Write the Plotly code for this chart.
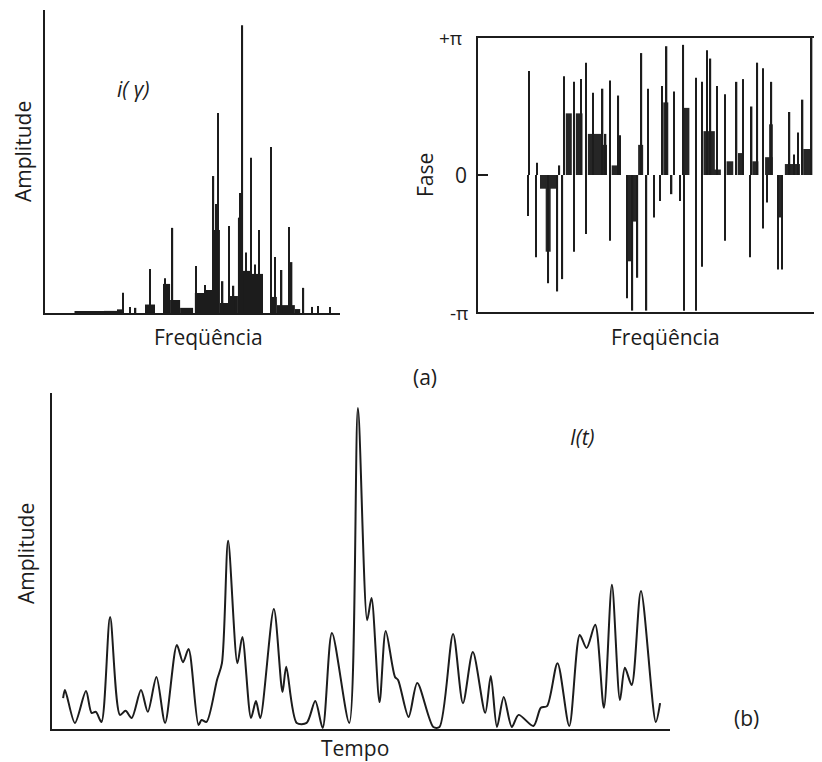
import plotly.graph_objects as go

W, H = 822, 762
OFF = 8  # page body margin offset of the browser

# ---------------- (a) amplitude spectrum i(gamma) ----------------
# thin spectral lines: frequency (0-100 arb.), amplitude (0-100 arb.)
amp_spike_freq = [26.5, 28.8, 30.7, 35.6, 40.6, 41.8, 43.2, 51.2, 54.2, 57.1, 58.0,
                  58.7, 60.2, 62.3, 63.9, 65.8, 66.3, 66.9, 68.2, 69.8, 71.2, 72.6,
                  76.6, 78.0, 80.2, 82.8, 83.6, 87.6, 90.6, 92.6, 96.6]
amp_spike_val = [6.7, 2.0, 1.7, 14.5, 11.5, 8.0, 28.1, 15.5, 9.2, 45.2, 36.0,
                 66.0, 10.5, 28.7, 9.0, 31.4, 39.6, 95.0, 20.0, 51.2, 16.0, 27.4,
                 54.8, 18.5, 14.2, 28.4, 16.8, 8.3, 2.0, 2.3, 2.0]
# dense (filled) bands: start, end, amplitude
amp_block_start = [24.4, 33.9, 40.0, 42.4, 45.8, 50.8, 54.2, 56.9, 59.3, 62.7, 65.4,
                   66.8, 69.5, 76.3, 78.6, 84.7, 10.0, 20.0]
amp_block_end = [26.4, 37.3, 42.4, 45.8, 50.2, 54.2, 56.9, 59.3, 62.7, 65.4, 66.8,
                 69.5, 73.9, 78.6, 84.7, 86.5, 20.0, 24.4]
amp_block_val = [1.2, 2.8, 9.6, 4.3, 1.7, 6.6, 7.6, 27.4, 3.3, 5.6, 31.4,
                 13.9, 12.9, 5.3, 2.6, 1.3, 0.4, 0.7]

# ---------------- (a) phase spectrum (in units of pi) ----------------
ph_spike_freq = [15.3, 15.0, 17.3, 17.7, 21.0, 23.7, 24.3, 25.2, 25.7, 28.7, 28.7,
                 30.7, 32.2, 32.2, 34.4, 37.2, 38.1, 39.4, 39.4, 41.9, 42.4, 44.4,
                 46.1, 47.6, 48.8, 50.3, 50.8, 52.5, 54.3, 55.0, 56.3, 57.8, 58.5,
                 60.3, 61.3, 61.5, 65.0, 65.0, 66.8, 66.8, 68.3, 69.4, 71.4, 73.7,
                 73.7, 77.2, 79.2, 81.2, 81.7, 83.4, 85.0, 85.0, 86.2, 87.4, 87.6,
                 89.5, 90.7, 93.0, 94.4, 95.5, 96.9, 99.4, 99.6, 101.5]
ph_spike_val = [0.76, -0.30, -0.60, 0.09, -0.79, -0.85, 0.07, -0.76, 0.72, 0.68, -0.56,
                0.70, 0.82, -0.43, 0.60, 0.63, 0.30, 0.69, -0.48, 0.58, 0.29, -0.90,
                -0.99, -0.75, 0.89, -0.99, 0.63, -0.31, -0.19, 0.65, 0.94, -0.14, 0.61,
                -0.19, 0.95, -0.99, 0.71, -0.99, 0.68, -0.67, 0.91, 0.85, 0.65, 0.59,
                -0.48, 0.68, 0.70, -0.60, 0.50, 0.82, 0.78, -0.39, -0.20, 0.37, 0.68,
                -0.69, -0.69, 0.46, 0.15, 0.31, 0.55, 0.47, 1.00, -0.96]
ph_block_start = [18.5, 20.2, 26.2, 29.2, 32.8, 37.3, 39.9, 44.2, 44.2, 47.8, 55.3,
                  61.3, 67.3, 69.6, 74.2, 77.6, 81.9, 85.7, 86.9, 89.5, 91.6, 97.1,
                  101.6]
ph_block_end = [23.5, 21.7, 28.0, 31.2, 37.3, 38.5, 41.9, 47.4, 45.7, 49.3, 56.8,
                63.1, 70.7, 72.5, 76.2, 79.1, 83.7, 88.0, 88.0, 90.7, 96.1, 99.6,
                102.4]
ph_block_val = [-0.10, -0.56, 0.45, 0.45, 0.30, 0.22, 0.07, -0.34, -0.63, 0.22, 0.53,
                0.49, 0.32, 0.04, 0.10, 0.16, 0.10, 0.13, 0.37, -0.31, 0.08, 0.19,
                -0.55]

# ---------------- (b) time signal I(t) ----------------
time_t = [1.8, 2.1, 3.7, 5.5, 6.4, 7.1, 8.0, 9.4, 11.0, 11.9, 12.9, 14.4, 15.5, 16.9,
          18.3, 20.2, 21.2, 22.1, 23.7, 24.2, 25.0, 26.7, 27.5, 28.5, 30.0, 30.8,
          32.2, 33.0, 33.7, 35.9, 37.3, 37.9, 39.6, 41.2, 42.6, 43.8, 45.3, 48.1,
          49.5, 51.0, 51.7, 53.0, 54.0, 55.5, 56.0, 57.7, 59.1, 61.7, 62.7, 64.9,
          66.5, 68.1, 70.1, 71.0, 72.0, 73.1, 74.4, 75.5, 77.9, 79.1, 80.1, 81.8,
          83.7, 85.4, 86.5, 87.9, 89.3, 90.6, 91.9, 92.7, 93.8, 95.3, 97.7, 98.4]
time_amp = [9.2, 11.6, 1.8, 11.3, 4.8, 5.1, 2.1, 33.3, 4.2, 5.4, 3.3, 11.6, 5.1, 15.5,
            1.8, 25.0, 19.9, 23.8, 1.2, 2.7, 2.1, 14.6, 19.6, 56.0, 19.6, 27.4,
            3.3, 8.3, 3.3, 35.7, 11.0, 18.5, 1.8, 1.8, 8.3, 0.3, 28.6, 1.8,
            95.5, 32.4, 39.0, 8.0, 29.2, 15.5, 14.6, 3.6, 13.7, 0.6, 0.6, 28.3,
            7.7, 22.9, 4.8, 15.8, 0.6, 9.5, 0.6, 4.2, 0.9, 6.3, 6.8, 19.6,
            0.9, 28.0, 24.1, 31.0, 6.3, 42.9, 8.6, 18.2, 13.1, 41.1, 2.1, 7.7]

INK = "#1c1c1c"
FONT = "Open Sans"


def px_dom_x(a, b):
    return [max(0.0, (a - OFF) / W), min(1.0, (b - OFF) / W)]


def px_dom_y(top, bottom):
    return [1 - (bottom - OFF) / H, 1 - (top - OFF) / H]


def centers(s, e):
    return [(a + b) / 2 for a, b in zip(s, e)]


def widths(s, e):
    return [b - a for a, b in zip(s, e)]


fig = go.Figure()

# amplitude spectrum
fig.add_trace(go.Bar(x=centers(amp_block_start, amp_block_end), y=amp_block_val,
                     width=widths(amp_block_start, amp_block_end),
                     marker=dict(color=INK, line=dict(width=0)),
                     xaxis="x", yaxis="y", showlegend=False))
fig.add_trace(go.Bar(x=amp_spike_freq, y=amp_spike_val, width=[0.5] * len(amp_spike_freq),
                     marker=dict(color=INK, line=dict(width=0)),
                     xaxis="x", yaxis="y", showlegend=False))

# phase spectrum
fig.add_trace(go.Bar(x=centers(ph_block_start, ph_block_end), y=ph_block_val,
                     width=widths(ph_block_start, ph_block_end),
                     marker=dict(color="#262626", line=dict(width=0)),
                     xaxis="x2", yaxis="y2", showlegend=False))
fig.add_trace(go.Bar(x=ph_spike_freq, y=ph_spike_val, width=[0.42] * len(ph_spike_freq),
                     marker=dict(color=INK, line=dict(width=0)),
                     xaxis="x2", yaxis="y2", showlegend=False))

# time signal
fig.add_trace(go.Scatter(x=time_t, y=time_amp, mode="lines",
                         line=dict(color=INK, width=2, shape="spline", smoothing=0.8),
                         xaxis="x3", yaxis="y3", showlegend=False))

plain = dict(showgrid=False, zeroline=False, showticklabels=False, ticks="",
             linecolor=INK, linewidth=1.5, fixedrange=True)

# phase panel: frame runs past the right edge of the picture
ph_x0, ph_x1 = 478, 830
ph_range_end = (ph_x1 - ph_x0) / 3.35

fig.update_layout(
    width=W, height=H,
    margin=dict(l=0, r=0, t=0, b=0),
    paper_bgcolor="white", plot_bgcolor="rgba(0,0,0,0)",
    barmode="overlay",
    font=dict(family=FONT, color=INK, size=21),
    xaxis=dict(**plain, domain=px_dom_x(45, 340), range=[0, 100], showline=True,
               anchor="y"),
    yaxis=dict(**plain, domain=px_dom_y(10, 313), range=[0, 100], showline=True,
               anchor="x"),
    xaxis2=dict(**plain, domain=px_dom_x(ph_x0, ph_x1), range=[0, ph_range_end],
                showline=True, mirror=True, anchor="y2"),
    yaxis2=dict(showgrid=False, zeroline=False, showticklabels=False, ticks="inside",
                ticklen=10, tickwidth=1.5, tickcolor=INK, tickvals=[0],
                linecolor=INK, linewidth=1.5, showline=True,
                domain=px_dom_y(38, 312), range=[-1, 1], anchor="x2"),
    xaxis3=dict(**plain, domain=px_dom_x(52, 670), range=[0, 100], showline=True,
                anchor="y3"),
    yaxis3=dict(**plain, domain=px_dom_y(393, 729), range=[0, 100], showline=True,
                anchor="x3"),
)


def ann(text, x, y, angle=0, size=21, italic=False):
    if italic:
        text = "<i>" + text + "</i>"
    fig.add_annotation(text=text, x=(x - OFF) / W, y=1 - (y - OFF) / H,
                       xref="paper", yref="paper",
                       showarrow=False, textangle=angle, xanchor="center",
                       yanchor="middle", font=dict(family=FONT, size=size, color=INK))


ann("Amplitude", 23, 152, angle=-90)
ann("i( γ)", 133, 89, italic=True)
ann("Freqüência", 208, 337)
ann("Fase", 425, 175, angle=-90)
ann("+π", 451, 38, size=19)
ann("0", 461, 175)
ann("-π", 459, 313, size=19)
ann("Freqüência", 665, 337)
ann("(a)", 425, 377)
ann("Amplitude", 26, 554, angle=-90)
ann("I(t)", 582, 437, italic=True)
ann("Tempo", 355, 748)
ann("(b)", 746, 718)

fig.write_html("out.html")
